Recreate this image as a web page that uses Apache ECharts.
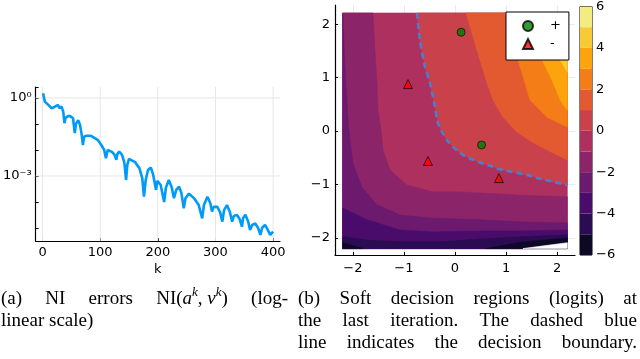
<!DOCTYPE html>
<html>
<head>
<meta charset="utf-8">
<script src="https://cdn.jsdelivr.net/npm/echarts@6/dist/echarts.min.js"></script>
<style>
html, body { margin: 0; padding: 0; background: #fff; }
#main { width: 640px; height: 359px; }
</style>
</head>
<body>
<div id="main"></div>
<script>
// ---- (a) NI errors ----
var errK = [1, 4, 10, 16, 19, 27, 29, 33, 36, 38, 40, 44, 48, 53, 54, 56, 58, 62, 65, 68,
  70, 72, 76, 84, 90, 96, 102, 107, 110, 113, 116, 121, 125, 128, 130, 133, 138, 142, 145, 147,
  150, 153, 160, 168, 173, 176, 179, 183, 188, 192, 197, 199, 202, 205, 211, 214, 219, 224, 228, 232,
  237, 241, 245, 248, 254, 263, 271, 277, 280, 286, 291, 294, 297, 303, 308, 312, 315, 320, 325, 329,
  332, 337, 342, 346, 348, 352, 357, 360, 364, 369, 374, 378, 381, 386, 391, 395, 400];
var errVal = [1.5, 0.72, 0.54, 0.40, 0.35, 0.54, 0.41, 0.46, 0.29, 0.107, 0.17, 0.20, 0.20, 0.166, 0.10, 0.044, 0.10, 0.14, 0.092, 0.038,
  0.0155, 0.032, 0.035, 0.035, 0.029, 0.024, 0.0155, 0.010, 0.0048, 0.010, 0.0117, 0.0083, 0.0065, 0.0042, 0.0071, 0.0086, 0.0065, 0.0032, 0.0007, 0.0026,
  0.0045, 0.0052, 0.0035, 0.0020, 0.00083, 0.00016, 0.0007, 0.0017, 0.0021, 0.0011, 0.00029, 0.00065, 0.0007, 0.00045, 0.0001, 0.00035, 0.0007, 0.00038, 0.00014, 0.00029,
  0.00039, 0.00022, 0.000057, 0.00014, 0.00021, 0.000138, 0.000076, 0.0000235, 0.000076, 0.00016, 0.000091, 0.000043, 0.000065, 0.000066, 0.000041, 0.0000175, 0.000049, 0.000076, 0.000041, 0.0000175,
  0.000029, 0.000032, 0.000022, 0.0000112, 0.000024, 0.000032, 0.000017, 0.0000083, 0.0000132, 0.0000151, 0.00001, 0.0000054, 0.00001, 0.0000132, 0.0000083, 0.0000054, 0.0000072];
var kTicks = [0, 100, 200, 300, 400];
var errGrid = [1, 0.001];

// ---- (b) contour lines of the logits (x, y points) ----
var fieldX = [-2.2, 2.2];
var fieldY = [-2.2, 2.21];
var contour0 = [[-0.745, 2.21], [-0.686, 1.70], [-0.588, 1.20], [-0.49, 0.90], [-0.392, 0.45], [-0.333, 0.15],
  [-0.157, -0.17], [0.098, -0.41], [0.353, -0.54], [0.745, -0.67], [0.941, -0.73], [1.41, -0.82], [1.61, -0.88], [2.2, -1.01]];
var contour1 = [[0.216, 2.21], [0.333, 1.83], [0.431, 1.51], [0.549, 1.14], [0.627, 0.90], [0.745, 0.58], [0.941, 0.26],
  [1.216, -0.02], [1.529, -0.22], [1.92, -0.41], [2.2, -0.54]];
var contour2 = [[0.98, 2.21], [1.118, 1.79], [1.235, 1.33], [1.47, 0.58], [1.804, 0.26], [2.2, 0.075]];
var contour3 = [[1.47, 2.21], [1.588, 1.79], [1.706, 1.33], [1.902, 0.95], [2.06, 0.58], [2.2, 0.39]];
var contour4 = [[1.824, 2.21], [1.92, 1.79], [2.06, 1.33], [2.2, 1.10]];
var contour5 = [[2.1, 2.21], [2.2, 1.98]];
var contourM1 = [[-1.608, 2.21], [-1.569, 1.51], [-1.529, 0.90], [-1.51, 0.39], [-1.451, 0.02], [-1.412, -0.355],
  [-1.275, -0.73], [-0.941, -1.01], [-0.431, -1.14], [0.098, -1.14], [0.49, -1.16], [1.275, -1.20], [2.2, -1.23]];
var contourM2 = [[-2.196, 2.21], [-2.157, 1.20], [-2.098, 0.26], [-2.059, -0.17], [-2.0, -0.60], [-1.824, -1.05],
  [-1.529, -1.38], [-1.078, -1.57], [-0.431, -1.63], [0.49, -1.66], [1.275, -1.70], [2.2, -1.72]];
var contourM3 = [[-2.2, -1.44], [-1.725, -1.66], [-1.078, -1.85], [-0.431, -1.89], [0.49, -1.87], [1.275, -1.87], [2.2, -1.85]];
var contourM4 = [[-2.2, -1.98], [-1.725, -2.04], [-1.078, -2.07], [-0.29, -2.07], [0.49, -2.02], [1.275, -1.98], [2.2, -1.94]];
var contourM5a = [[-2.2, -2.09], [-1.8, -2.2]];
var contourM5b = [[0.6, -2.2], [1.3, -2.08], [2.2, -2.0]];
var contourM6 = [[1.33, -2.2], [2.2, -2.09]];

var posPoints = [[0.12, 1.85], [0.52, -0.26]];
var negPoints = [[-0.92, 0.88], [-0.53, -0.56], [0.86, -0.88]];
var axisTicksB = [-2, -1, 0, 1, 2];
var barLevels = [-6, -5, -4, -3, -2, -1, 0, 1, 2, 3, 4, 5];

// inferno-like palette, one colour per unit band from -6 to 6
var bandColors = ['#0c0826', '#2b0b52', '#4a0c6b', '#6b1a6e', '#8c2469', '#ad305e',
  '#c9414b', '#e35a30', '#f57d17', '#fba40c', '#f8cb36', '#f3ec80'];
function bandColor(lo) { return bandColors[lo + 6]; }

var X0 = fieldX[0], X1 = fieldX[1], Y0 = fieldY[0], Y1 = fieldY[1];
// region polygons, painted in order
var layers = [
  { color: bandColor(-1), pts: [[X0, Y0], [X1, Y0], [X1, Y1], [X0, Y1]] },
  { color: bandColor(0), pts: contour0.concat([[X1, Y1]]) },
  { color: bandColor(1), pts: contour1.concat([[X1, Y1]]) },
  { color: bandColor(2), pts: contour2.concat([[X1, Y1]]) },
  { color: bandColor(3), pts: contour3.concat([[X1, Y1]]) },
  { color: bandColor(4), pts: contour4.concat([[X1, Y1]]) },
  { color: bandColor(5), pts: contour5.concat([[X1, Y1]]) },
  { color: bandColor(-2), pts: contourM1.concat([[X1, Y0], [X0, Y0], [X0, Y1]]) },
  { color: bandColor(-3), pts: contourM2.concat([[X1, Y0], [X0, Y0], [X0, Y1]]) },
  { color: bandColor(-4), pts: contourM3.concat([[X1, Y0], [X0, Y0]]) },
  { color: bandColor(-5), pts: contourM4.concat([[X1, Y0], [X0, Y0]]) },
  { color: bandColor(-6), pts: contourM5a.concat([[X0, Y0]]) },
  { color: bandColor(-6), pts: contourM5b.concat([[X1, Y0]]) },
  { color: '#ffffff', pts: contourM6.concat([[X1, Y0]]) }
];

var SANS = 'DejaVu Sans';
var SERIF = 'Liberation Serif';
var CAP = 19;
function fmtMinus(v) { return v < 0 ? '\u2212' + Math.abs(v) : String(v); }

var lblStyle = { fontFamily: SANS, fontSize: 13, color: '#000' };
var axLine = { show: true, onZero: false, lineStyle: { color: '#000', width: 1.2 } };
var faint = { show: true, lineStyle: { color: '#ebebeb', width: 1 } };

// ---- captions (justified like the LaTeX source) ----
var mctx = document.createElement('canvas').getContext('2d');
var rich = {
  r: { fontFamily: SERIF, fontSize: CAP, lineHeight: 26, color: '#000' },
  i: { fontFamily: SERIF, fontSize: CAP, fontStyle: 'italic', lineHeight: 26, color: '#000' },
  s: { fontFamily: SERIF, fontSize: 13, fontStyle: 'italic', lineHeight: 13, verticalAlign: 'top', color: '#000' }
};
function partW(p) {
  var st = rich[p.s];
  mctx.font = (st.fontStyle === 'italic' ? 'italic ' : '') + st.fontSize + 'px "' + SERIF + '"';
  return mctx.measureText(p.t).width;
}
function W(t) { return [{ t: t, s: 'r' }]; }
var graphics = [];
function placeLine(words, x0, x1, y, justify) {
  var widths = words.map(function (w) { return w.reduce(function (a, p) { return a + partW(p); }, 0); });
  var total = widths.reduce(function (a, b) { return a + b; }, 0);
  var gap = justify ? (x1 - x0 - total) / (words.length - 1) : partW({ t: ' ', s: 'r' });
  var x = x0;
  words.forEach(function (w, i) {
    var txt = w.map(function (p) { return '{' + p.s + '|' + p.t + '}'; }).join('');
    graphics.push({ type: 'text', x: x, y: y, style: { text: txt, rich: rich, verticalAlign: 'middle', align: 'left' } });
    x += widths[i] + gap;
  });
}
var niWord = [{ t: 'NI(', s: 'r' }, { t: 'a', s: 'i' }, { t: 'k', s: 's' }, { t: ', ', s: 'r' }, { t: '\u03bd', s: 'i' }, { t: 'k', s: 's' }, { t: ')', s: 'r' }];
placeLine([W('(a)'), W('NI'), W('errors'), niWord, W('(log-')], 1, 288, 299, true);
placeLine([W('linear'), W('scale)')], 1, 288, 321, false);
placeLine([W('(b)'), W('Soft'), W('decision'), W('regions'), W('(logits)'), W('at')], 298, 637, 299, true);
placeLine([W('the'), W('last'), W('iteration.'), W('The'), W('dashed'), W('blue')], 298, 637, 321, true);
placeLine([W('line'), W('indicates'), W('the'), W('decision'), W('boundary.')], 298, 637, 343, true);

var chart = echarts.init(document.getElementById('main'));
var option = {
  animation: false,
  backgroundColor: '#fff',
  grid: [
    { left: 34, top: 87, width: 246, height: 154 },
    { left: 335, top: 5, width: 240, height: 250 },
    { left: 580, top: 5, width: 12, height: 250, show: true, borderColor: '#000', borderWidth: 1 }
  ],
  xAxis: [
    { gridIndex: 0, type: 'value', min: -12, max: 412, name: 'k', nameLocation: 'middle', nameGap: 22,
      nameTextStyle: lblStyle, axisLine: axLine,
      axisTick: { inside: true, length: 3, customValues: kTicks, lineStyle: { color: '#000' } },
      axisLabel: Object.assign({ customValues: kTicks, margin: 5 }, lblStyle), splitLine: { show: false } },
    { gridIndex: 1, type: 'value', min: -2.35, max: 2.35, axisLine: axLine,
      axisTick: { inside: true, length: 3, customValues: axisTicksB, lineStyle: { color: '#000' } },
      axisLabel: Object.assign({ customValues: axisTicksB, margin: 7, formatter: fmtMinus }, lblStyle), splitLine: faint },
    { gridIndex: 2, type: 'category', data: ['c'], show: false }
  ],
  yAxis: [
    { gridIndex: 0, type: 'log', logBase: 10, min: Math.pow(10, -5.5), max: Math.pow(10, 0.42), axisLine: axLine,
      axisTick: { inside: true, length: 3, lineStyle: { color: '#000' } },
      axisLabel: Object.assign({ margin: 4, formatter: function (v) {
        var l = Math.log10(v), e = Math.round(l);
        if (Math.abs(l - e) > 1e-6) return '';
        if (e === 0) return '10\u2070';
        if (e === -3) return '10\u207b\u00b3';
        return '';
      } }, lblStyle), splitLine: { show: false } },
    { gridIndex: 1, type: 'value', min: -2.32, max: 2.36, axisLine: axLine,
      axisTick: { inside: true, length: 3, customValues: axisTicksB, lineStyle: { color: '#000' } },
      axisLabel: Object.assign({ customValues: axisTicksB, margin: 5, formatter: fmtMinus }, lblStyle), splitLine: faint },
    { gridIndex: 2, type: 'value', min: -6, max: 6, interval: 2, position: 'right', axisLine: { show: false },
      axisTick: { inside: true, length: 3, lineStyle: { color: '#000' } },
      axisLabel: Object.assign({ margin: 4, formatter: fmtMinus }, lblStyle), splitLine: { show: false } }
  ],
  legend: {
    left: 506, top: 12, orient: 'vertical', padding: [6, 8, 8, 16], itemGap: 2,
    itemWidth: 10, itemHeight: 10, borderColor: '#000', borderWidth: 1, backgroundColor: '#fff',
    textStyle: { fontFamily: SANS, fontSize: 13, color: '#000', lineHeight: 16, padding: [0, 0, 0, 12] },
    data: [{ name: '+', icon: 'circle' }, { name: '-', icon: 'triangle' }]
  },
  graphic: graphics,
  series: [
    { type: 'custom', xAxisIndex: 0, yAxisIndex: 0, z: 1, silent: true,
      data: kTicks.map(function (k) { return [k, 1]; }),
      renderItem: function (params, api) {
        var cs = params.coordSys, x = api.coord([api.value(0), 1])[0];
        return { type: 'line', shape: { x1: x, y1: cs.y, x2: x, y2: cs.y + cs.height }, style: { stroke: '#e6e6e6', lineWidth: 1 } };
      } },
    { type: 'custom', xAxisIndex: 0, yAxisIndex: 0, z: 1, silent: true,
      data: errGrid.map(function (v) { return [0, v]; }),
      renderItem: function (params, api) {
        var cs = params.coordSys, y = api.coord([0, api.value(1)])[1];
        return { type: 'line', shape: { x1: cs.x, y1: y, x2: cs.x + cs.width, y2: y }, style: { stroke: '#e6e6e6', lineWidth: 1 } };
      } },
    { type: 'line', xAxisIndex: 0, yAxisIndex: 0, z: 3, showSymbol: false, symbol: 'none',
      data: errK.map(function (k, i) { return [k, errVal[i]]; }),
      lineStyle: { color: '#009afa', width: 2.6 } },
    { type: 'custom', xAxisIndex: 1, yAxisIndex: 1, z: 2, silent: true,
      data: layers.map(function (l, i) { return [i, 0]; }),
      renderItem: function (params, api) {
        var layer = layers[params.dataIndex];
        var pts = layer.pts.map(function (p) { return api.coord(p); });
        return { type: 'polygon', shape: { points: pts }, style: { fill: layer.color, stroke: layer.color, lineWidth: 0.6 } };
      } },
    { type: 'line', xAxisIndex: 1, yAxisIndex: 1, z: 4, showSymbol: false, symbol: 'none', smooth: 0.25,
      data: contour0, lineStyle: { color: '#4a7dcc', width: 2.6, type: [6, 4] } },
    { name: '+', type: 'scatter', xAxisIndex: 1, yAxisIndex: 1, z: 5, symbol: 'circle', symbolSize: 8,
      data: posPoints, itemStyle: { color: '#008000', borderColor: '#000', borderWidth: 0.8 } },
    { name: '-', type: 'scatter', xAxisIndex: 1, yAxisIndex: 1, z: 5, symbol: 'triangle', symbolSize: 9,
      data: negPoints, itemStyle: { color: '#ff0000', borderColor: '#000', borderWidth: 0.8 } },
    { type: 'custom', xAxisIndex: 2, yAxisIndex: 2, z: 2, silent: true,
      data: barLevels.map(function (lv) { return [0, lv]; }),
      renderItem: function (params, api) {
        var cs = params.coordSys, lv = api.value(1);
        var yTop = api.coord([0, lv + 1])[1], yBot = api.coord([0, lv])[1];
        return { type: 'rect', shape: { x: cs.x, y: yTop, width: cs.width, height: yBot - yTop }, style: { fill: bandColor(lv) } };
      } }
  ]
};
chart.setOption(option);
</script>
</body>
</html>
